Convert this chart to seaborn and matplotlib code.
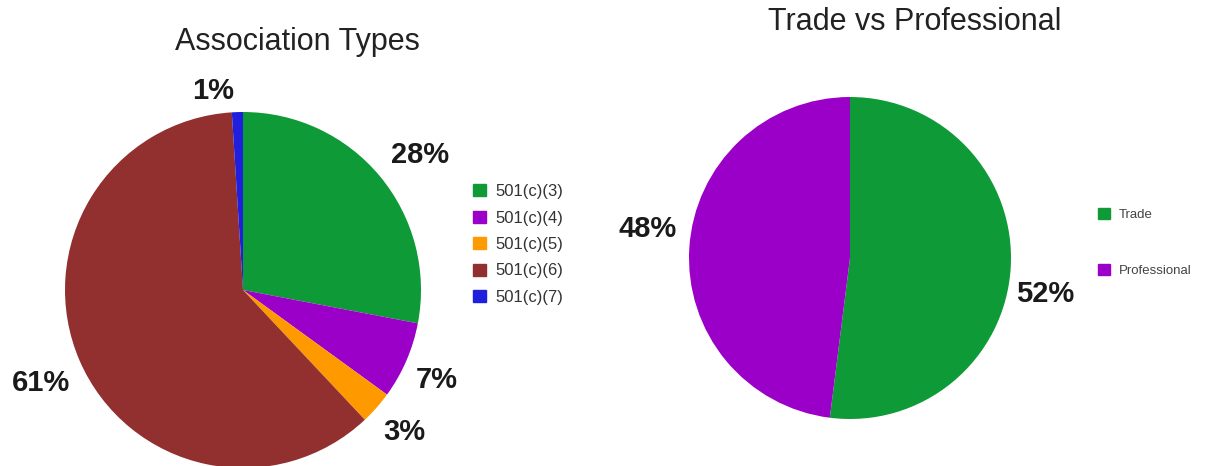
import matplotlib.pyplot as plt
import numpy as np
import seaborn as sns
from matplotlib.patches import Patch

# Association types (share of associations, %)
assoc_labels = ['501(c)(3)', '501(c)(4)', '501(c)(5)', '501(c)(6)', '501(c)(7)']
assoc_values = [28, 7, 3, 61, 1]
assoc_colors = ['#0f9a38', '#9b00c8', '#ff9900', '#922f2f', '#1f1fdd']

# Trade vs professional (%)
tp_labels = ['Trade', 'Professional']
tp_values = [52, 48]
tp_colors = ['#0f9a38', '#9b00c8']

sns.set_theme(style='white')
plt.rcParams['font.family'] = ['Liberation Sans', 'DejaVu Sans']

W, H = 1205, 466
fig = plt.figure(figsize=(W / 100, H / 100), dpi=100)


def px_axes(cx, cy, r):
    # axes box from pixel centre / radius (image coords, y down)
    return fig.add_axes([(cx - r) / W, (H - cy - r) / H, 2 * r / W, 2 * r / H])


def nudge_labels(wedges, texts, shifts):
    # place each % label at the wedge mid-angle plus a small (deg, radius) tweak
    for w, t, (dang, rad) in zip(wedges, texts, shifts):
        ang = np.deg2rad((w.theta1 + w.theta2) / 2 + dang)
        t.set_position((rad * np.cos(ang), rad * np.sin(ang)))


pct_style = dict(fontsize=21, fontweight='bold', color='#1a1a1a')

# Left pie
ax1 = px_axes(243, 290, 178)
w1, _, t1 = ax1.pie(assoc_values, colors=assoc_colors, startangle=90, counterclock=False,
                    autopct='%1.0f%%', pctdistance=1.23, textprops=pct_style,
                    wedgeprops=dict(linewidth=0))
nudge_labels(w1, t1, [(-2.3, 1.25), (-1.5, 1.2), (0, 1.21), (1.2, 1.25), (6.7, 1.13)])
ax1.set_xlim(-1, 1)
ax1.set_ylim(-1, 1)
ax1.set_aspect('equal')
fig.text(297 / W, 1 - 42 / H, 'Association Types', ha='center', va='center',
         fontsize=22, color='#222222')
fig.legend([Patch(color=c) for c in assoc_colors], assoc_labels,
           loc='upper left', bbox_to_anchor=(458 / W, 1 - 169 / H), frameon=False,
           fontsize=12, handlelength=0.75, handleheight=0.75, handletextpad=0.6,
           labelspacing=0.69, labelcolor='#333333')

# Right pie
ax2 = px_axes(850, 258, 161)
w2, _, t2 = ax2.pie(tp_values, colors=tp_colors, startangle=90, counterclock=False,
                    autopct='%1.0f%%', pctdistance=1.24, textprops=pct_style,
                    wedgeprops=dict(linewidth=0))
nudge_labels(w2, t2, [(-6.9, 1.23), (-4.5, 1.27)])
ax2.set_xlim(-1, 1)
ax2.set_ylim(-1, 1)
ax2.set_aspect('equal')
fig.text(915 / W, 1 - 22 / H, 'Trade vs Professional', ha='center', va='center',
         fontsize=22, color='#222222')
fig.legend([Patch(color=c) for c in tp_colors], tp_labels,
           loc='upper left', bbox_to_anchor=(1086 / W, 1 - 196 / H), frameon=False,
           fontsize=9.5, handlelength=0.9, handleheight=0.9, handletextpad=0.7,
           labelspacing=3.24, labelcolor='#444444')

fig.savefig('out.png', dpi=100)
